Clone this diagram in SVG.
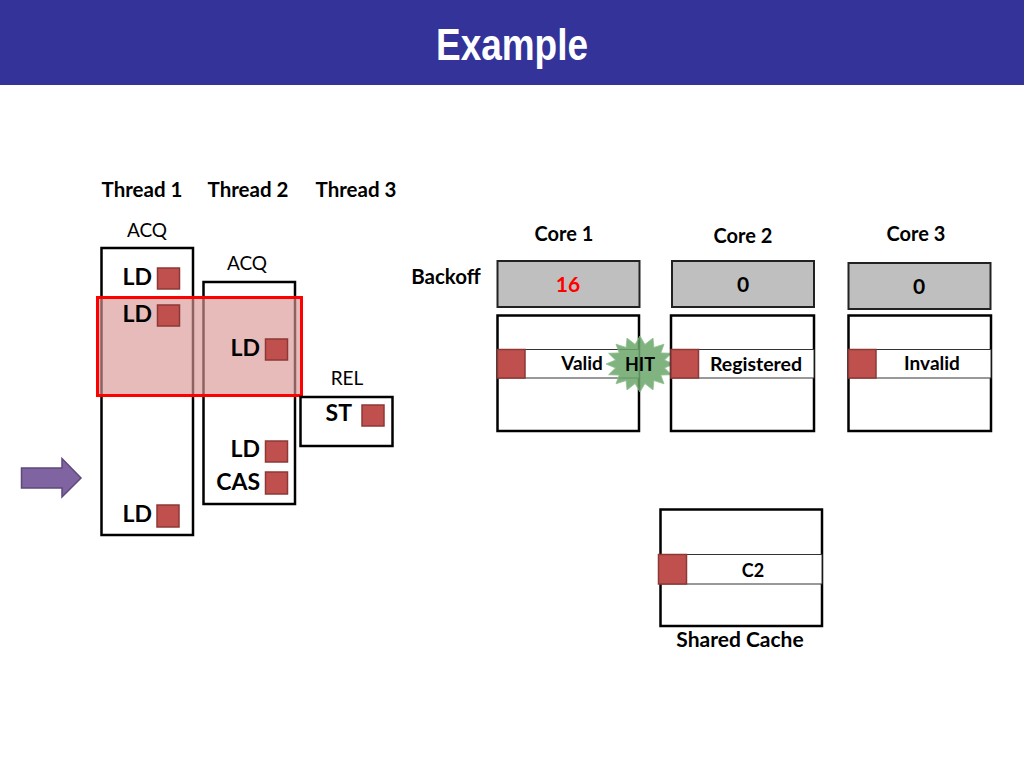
<svg xmlns="http://www.w3.org/2000/svg" width="1024" height="768" viewBox="0 0 1024 768">
<style>
.t{font-family:Lato,"Open Sans","Liberation Sans",sans-serif;font-weight:bold;fill:#000}
.r{font-family:Lato,"Open Sans","Liberation Sans",sans-serif;fill:#000}
.box{fill:#fff;stroke:#000;stroke-width:2.5}
.sq{fill:#c0504d;stroke:#8c3836;stroke-width:1.5}
.gray{fill:#bfbfbf;stroke:#222;stroke-width:2}
.row{fill:#fff;stroke:#333;stroke-width:1}
.ins{font-size:23px}
</style>
<rect x="0" y="0" width="1024" height="768" fill="#fff"/>
<g id="title">
<rect x="0" y="0" width="1024" height="85" fill="#333399"/>
<text x="436" y="60" textLength="152" lengthAdjust="spacingAndGlyphs" font-family="'Liberation Sans Narrow','Liberation Sans',sans-serif" font-weight="bold" font-size="44" fill="#fff">Example</text>
</g>
<g id="thread-labels">
<text class="t" x="142" y="197" font-size="20.5" text-anchor="middle">Thread 1</text>
<text class="t" x="248" y="197" font-size="20.5" text-anchor="middle">Thread 2</text>
<text class="t" x="356" y="197" font-size="20.5" text-anchor="middle">Thread 3</text>
</g>
<g id="thread1">
<text class="r" x="147" y="237" font-size="19" text-anchor="middle">ACQ</text>
<rect class="box" x="101.5" y="248" width="91.5" height="287"/>
</g>
<g id="thread2">
<text class="r" x="247" y="270" font-size="19" text-anchor="middle">ACQ</text>
<rect class="box" x="203.5" y="282" width="91.5" height="222"/>
</g>
<g id="highlight">
<rect x="97.5" y="297.5" width="204" height="98" fill="#d99694" fill-opacity="0.65" stroke="#ff0000" stroke-width="3"/>
</g>
<g id="thread3">
<text class="r" x="347" y="385" font-size="19" text-anchor="middle">REL</text>
<rect class="box" x="300.5" y="397" width="92" height="49"/>
</g>
<g id="instructions">
<text class="t ins" x="152" y="285" text-anchor="end">LD</text>
<rect class="sq" x="157.5" y="268" width="22" height="21"/>
<text class="t ins" x="152" y="322" text-anchor="end">LD</text>
<rect class="sq" x="157.5" y="305" width="22" height="21"/>
<text class="t ins" x="260" y="356" text-anchor="end">LD</text>
<rect class="sq" x="265.5" y="339" width="22" height="21"/>
<text class="t ins" x="352" y="421" text-anchor="end">ST</text>
<rect class="sq" x="362" y="405" width="22" height="21"/>
<text class="t ins" x="260" y="457" text-anchor="end">LD</text>
<rect class="sq" x="265.5" y="441" width="22" height="21"/>
<text class="t ins" x="260" y="490" text-anchor="end" font-size="24">CAS</text>
<rect class="sq" x="265.5" y="472" width="22" height="22"/>
<text class="t ins" x="152" y="522" text-anchor="end">LD</text>
<rect class="sq" x="157" y="505" width="22" height="22"/>
</g>
<g id="pointer">
<path d="M21.5,468 L62,468 L62,458.5 L81,478 L62,497 L62,488 L21.5,488 Z" fill="#8064a2" stroke="#5c4a7a" stroke-width="1.5"/>
</g>
<g id="backoff-label">
<text class="t" x="446" y="284" font-size="20.5" text-anchor="middle">Backoff</text>
</g>
<g id="core1">
<text class="t" x="564" y="241" font-size="20" text-anchor="middle">Core 1</text>
<rect class="gray" x="497.5" y="261" width="142" height="46"/>
<text class="t" x="568" y="292" font-size="21" text-anchor="middle" style="fill:#ff0000">16</text>
<rect class="box" x="497.5" y="315.5" width="141.5" height="115.5"/>
<rect class="row" x="497.5" y="349.5" width="141.5" height="28.5"/>
<rect class="sq" x="497.5" y="349.5" width="27.5" height="28.5"/>
<text class="t" x="582" y="370" font-size="19" text-anchor="middle">Valid</text>
</g>
<g id="hit">
<polygon points="674,364 664.5,367.9 671.4,374.7 660.8,375.1 664,383.8 653.9,380.6 653,389.9 644.9,383.6 640,392 635.1,383.6 627,389.9 626.1,380.6 616,383.8 619.2,375.1 608.6,374.7 615.5,367.9 606,364 615.5,360.1 608.6,353.3 619.2,352.9 616,344.2 626.1,347.4 627,338.1 635.1,344.4 640,336 644.9,344.4 653,338.1 653.9,347.4 664,344.2 660.8,352.9 671.4,353.3 664.5,360.1" fill="#6aa66a" fill-opacity="0.85" stroke="#8fbf8f" stroke-width="0.8"/>
<text class="t" x="640" y="371" font-size="18" text-anchor="middle">HIT</text>
</g>
<g id="core2">
<text class="t" x="743" y="243" font-size="20" text-anchor="middle">Core 2</text>
<rect class="gray" x="672" y="261" width="142" height="46"/>
<text class="t" x="743" y="292" font-size="21" text-anchor="middle">0</text>
<rect class="box" x="671" y="315.5" width="143" height="115.5"/>
<rect class="row" x="671" y="349.5" width="143" height="28.5"/>
<rect class="sq" x="671" y="349.5" width="27.5" height="28.5"/>
<text class="t" x="756" y="371" font-size="19.5" text-anchor="middle">Registered</text>
</g>
<g id="core3">
<text class="t" x="916" y="241" font-size="20" text-anchor="middle">Core 3</text>
<rect class="gray" x="848.5" y="263" width="142" height="46"/>
<text class="t" x="919" y="294" font-size="21" text-anchor="middle">0</text>
<rect class="box" x="848.5" y="315.5" width="142.5" height="115.5"/>
<rect class="row" x="848.5" y="349.5" width="142.5" height="28.5"/>
<rect class="sq" x="848.5" y="349.5" width="27.5" height="28.5"/>
<text class="t" x="932" y="370" font-size="19" text-anchor="middle">Invalid</text>
</g>
<g id="shared-cache">
<rect class="box" x="660.5" y="509.5" width="161.5" height="116.5"/>
<rect class="row" x="660.5" y="554.5" width="161.5" height="29.5"/>
<rect class="sq" x="658.5" y="554.5" width="28" height="29.5"/>
<text class="t" x="753" y="577" font-size="18" text-anchor="middle">C2</text>
<text class="t" x="740" y="647" font-size="21" text-anchor="middle">Shared Cache</text>
</g>
</svg>
